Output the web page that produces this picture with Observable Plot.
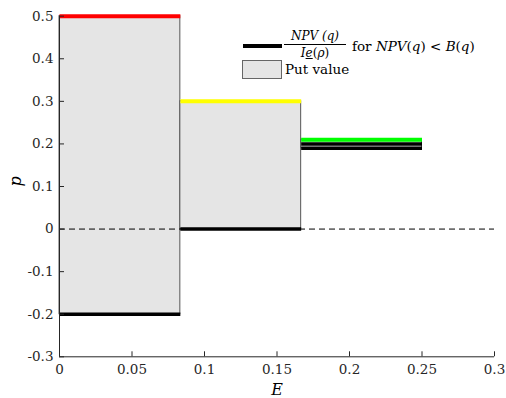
<!DOCTYPE html>
<html><head><meta charset="utf-8">
<script src="https://cdn.jsdelivr.net/npm/d3@7"></script>
<script src="https://cdn.jsdelivr.net/npm/@observablehq/plot@0.6"></script>
<style>
body{margin:0;background:#fff;}
#wrap{position:relative;width:506px;height:398px;font-family:"DejaVu Serif","Liberation Serif",serif;color:#000;}
#wrap svg, #wrap svg text{font-family:"DejaVu Serif","Liberation Serif",serif !important;}
.abs{position:absolute;white-space:nowrap;}
.it{font-style:italic;}
</style></head><body><div id="wrap"></div>
<script>
const segStart = [0, 1/12, 1/6];
const segEnd = [1/12, 1/6, 1/4];
const putLow = [-0.2, 0, 0.19];
const putHigh = [0.5, 0.3, 0.21];
const capValue = [0.5, 0.3, 0.21];
const capColor = ["#ff0000", "#ffff00", "#00ff00"];
const npvStart = [0, 1/12, 1/6, 1/6];
const npvEnd = [1/12, 1/6, 1/4, 1/4];
const npvValue = [-0.2, 0, 0.2, 0.19];
const xTicks = [0, 0.05, 0.1, 0.15, 0.2, 0.25, 0.3];
const yTicks = [-0.3, -0.2, -0.1, 0, 0.1, 0.2, 0.3, 0.4, 0.5];
const xDomain = [0, 0.3];
const yDomain = [-0.3, 0.5];

const segs = segStart.map((s, i) => ({x1: s, x2: segEnd[i], lo: putLow[i], hi: putHigh[i], cap: capValue[i], color: capColor[i]}));
const npv = npvStart.map((s, i) => ({x1: s, x2: npvEnd[i], y: npvValue[i]}));

const axisColor = "#262626";
const chart = Plot.plot({
  width: 506, height: 398,
  marginLeft: 59, marginRight: 12, marginTop: 15.7, marginBottom: 41.7,
  style: {fontFamily: "'DejaVu Serif', serif", fontSize: "13.5px", color: axisColor, background: "#fff"},
  x: {domain: xDomain},
  y: {domain: yDomain},
  marks: [
    Plot.rect(segs, {x1: "x1", x2: "x2", y1: "lo", y2: "hi", fill: "#e5e5e5", stroke: "#555", strokeWidth: 1}),
    Plot.ruleY([0], {stroke: "#000", strokeWidth: 1, strokeDasharray: "6,4"}),
    Plot.link(npv, {x1: "x1", x2: "x2", y1: "y", y2: "y", stroke: "#000", strokeWidth: 3.5, strokeLinecap: "butt"}),
    Plot.link(segs, {x1: "x1", x2: "x2", y1: "cap", y2: "cap", stroke: "color", strokeWidth: 4, strokeLinecap: "butt"}),
    Plot.ruleY([yDomain[0]], {stroke: axisColor, strokeWidth: 1}),
    Plot.ruleX([xDomain[0]], {stroke: axisColor, strokeWidth: 1}),
    Plot.ruleX(xTicks, {x: d => d, y1: yDomain[0], y2: yDomain[0], insetBottom: 5, stroke: axisColor}),
    Plot.ruleY(yTicks, {y: d => d, x1: xDomain[0], x2: xDomain[0], insetRight: -5, stroke: axisColor}),
    Plot.axisX(xTicks, {tickSize: 0, tickPadding: 8, tickFormat: d => String(d), label: null, fill: axisColor}),
    Plot.axisY(yTicks, {tickSize: 0, tickPadding: 6, tickFormat: d => String(d), label: null, fill: axisColor}),
    Plot.text(["E"], {frameAnchor: "bottom", lineAnchor: "middle", dy: 33, fontStyle: "italic", fontSize: 16, fill: "#000"}),
    Plot.text(["p"], {frameAnchor: "left", dx: -44, rotate: -90, fontStyle: "italic", fontSize: 16, fill: "#000"})
  ]
});
const wrap = document.getElementById("wrap");
wrap.appendChild(chart);

const legend = document.createElement("div");
legend.innerHTML = `
<div class="abs" style="left:243px;top:44px;width:39px;height:4px;background:#000"></div>
<div class="abs" style="left:284px;top:29px;width:62px;text-align:center;font-size:12px;line-height:14px">
  <div class="it" style="border-bottom:1px solid #000;padding-bottom:1px">NPV (q)</div>
  <div style="padding-top:1px"><span class="it">I</span><span class="it" style="text-decoration:underline">e</span>(<span class="it">ρ</span>)</div>
</div>
<div class="abs" style="left:352px;top:38px;font-size:13.5px">for <span class="it">NPV</span>(<span class="it">q</span>) &lt; <span class="it">B</span>(<span class="it">q</span>)</div>
<div class="abs" style="left:242px;top:60px;width:38px;height:17px;background:#e5e5e5;border:1px solid #666"></div>
<div class="abs" style="left:285px;top:61px;font-size:13.5px">Put value</div>
`;
wrap.appendChild(legend);
</script></body></html>
